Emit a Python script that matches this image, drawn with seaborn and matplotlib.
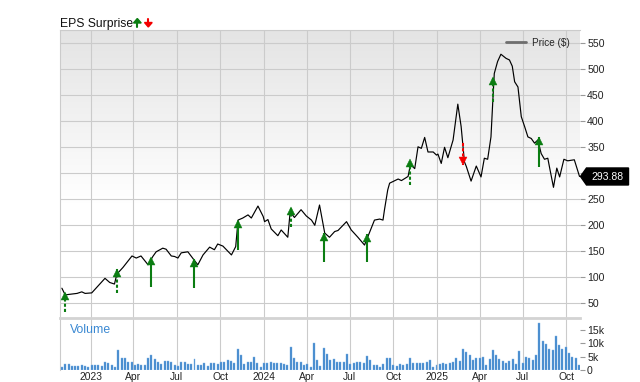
import matplotlib
matplotlib.use("Agg")
import matplotlib.pyplot as plt
import matplotlib.ticker as mticker
from matplotlib.lines import Line2D
from matplotlib.patches import Polygon
from matplotlib.transforms import offset_copy
import numpy as np
import pandas as pd
import seaborn as sns

# ---------------- data ----------------
price_dates = [
    "2022-11-01", "2022-11-08", "2022-11-15", "2022-12-03", "2022-12-13", "2022-12-20",
    "2023-01-03", "2023-01-31", "2023-02-10", "2023-02-20", "2023-02-25", "2023-03-10",
    "2023-03-29", "2023-04-07", "2023-04-17", "2023-05-02", "2023-05-12", "2023-05-19",
    "2023-06-02", "2023-06-09", "2023-06-20", "2023-06-27", "2023-07-04", "2023-07-11",
    "2023-07-25", "2023-08-04", "2023-08-15", "2023-08-26", "2023-09-09", "2023-09-19",
    "2023-09-26", "2023-10-07", "2023-10-25", "2023-11-03", "2023-11-08", "2023-11-18",
    "2023-11-29", "2023-12-06", "2023-12-20", "2023-12-31", "2024-01-03", "2024-01-10",
    "2024-01-17", "2024-01-31", "2024-02-07", "2024-02-21", "2024-02-26", "2024-03-06",
    "2024-03-20", "2024-03-31", "2024-04-11", "2024-04-18", "2024-04-28", "2024-05-09",
    "2024-05-19", "2024-05-30", "2024-06-06", "2024-06-24", "2024-07-04", "2024-07-18",
    "2024-08-01", "2024-08-08", "2024-08-22", "2024-09-02", "2024-09-09", "2024-09-12",
    "2024-09-19", "2024-09-23", "2024-10-11", "2024-10-18", "2024-11-01", "2024-11-06",
    "2024-11-15", "2024-11-22", "2024-11-29", "2024-12-06", "2024-12-13", "2024-12-24",
    "2024-12-31", "2025-01-03", "2025-01-10", "2025-01-17", "2025-01-24", "2025-02-04",
    "2025-02-14", "2025-02-21", "2025-02-28", "2025-03-04", "2025-03-14", "2025-03-25",
    "2025-04-04", "2025-04-11", "2025-04-18", "2025-04-25", "2025-04-29", "2025-05-02",
    "2025-05-09", "2025-05-16", "2025-05-27", "2025-06-03", "2025-06-09", "2025-06-14",
    "2025-06-21", "2025-06-28", "2025-07-05", "2025-07-12", "2025-07-19", "2025-07-26",
    "2025-08-02", "2025-08-09", "2025-08-16", "2025-08-23", "2025-08-27", "2025-09-04",
    "2025-09-11", "2025-09-17", "2025-09-26", "2025-10-04", "2025-10-18", "2025-10-29",
]
price_values = [
    79, 66, 67, 69, 72, 69,
    70, 98, 90, 87, 106, 119,
    141, 137, 141, 124, 140, 149,
    156, 154, 141, 140, 137, 147,
    149, 137, 124, 143, 158, 153,
    164, 160, 143, 159, 210, 214,
    220, 214, 237, 217, 207, 211,
    193, 180, 191, 177, 226, 215,
    230, 218, 210, 200, 239, 185,
    177, 188, 190, 207, 191, 177,
    162, 178, 210, 212, 210, 229,
    268, 281, 289, 286, 294, 317,
    309, 351, 348, 369, 341, 341,
    335, 337, 319, 350, 330, 364,
    433, 390, 322, 313, 285, 314,
    293, 329, 327, 370, 441, 492,
    515, 529, 521, 518, 506, 476,
    466, 409, 390, 370, 367, 358,
    364, 338, 327, 329, 310, 273,
    310, 293, 327, 324, 326, 293.88,
]

eps_dates = ["2022-11-07", "2023-02-26", "2023-05-08", "2023-08-07", "2023-11-07",
             "2024-02-27", "2024-05-07", "2024-08-06", "2024-11-06", "2025-02-26",
             "2025-04-30", "2025-08-05"]
eps_tip = [70, 115, 138, 135, 209, 235, 185, 183, 326, 316, 485, 369]
eps_tail = [34, 69, 82, 80, 152, 196, 130, 129, 278, 358, 438, 313]
eps_result = ["beat", "beat", "beat", "beat", "beat", "beat", "beat", "beat",
              "beat", "miss", "beat", "beat"]
eps_dashed = [True, True, False, False, False, True, False, False, True, True, True, False]

volume_start = "2022-11-01"
volume_k = [
    1.0, 2.25, 2.25, 1.5, 1.6, 1.6, 1.9, 1.5, 1.25, 1.75,
    1.75, 1.75, 1.5, 3.0, 2.5, 1.75, 1.25, 7.25, 4.4, 4.6,
    3.1, 3.1, 1.9, 2.4, 1.9, 1.9, 4.4, 5.6, 3.9, 2.9,
    2.25, 3.4, 3.4, 3.1, 1.9, 1.6, 3.1, 2.9, 2.25, 2.25,
    4.0, 1.9, 1.9, 2.75, 1.5, 2.75, 2.5, 2.4, 2.9, 3.1,
    3.75, 3.5, 2.5, 7.9, 5.4, 2.1, 3.1, 2.9, 4.75, 2.5,
    1.25, 2.6, 2.6, 3.1, 2.5, 2.75, 2.6, 2.4, 1.9, 8.4,
    4.4, 3.1, 2.9, 1.9, 2.25, 1.25, 10.0, 3.75,
    1.6, 8.1, 5.9, 3.75, 4.1, 2.9, 3.1, 2.9, 6.0, 2.1,
    2.75, 3.1, 3.1, 2.5, 5.1, 3.75, 1.9, 1.9, 1.1, 2.1,
    4.4, 4.4, 1.9, 1.5, 2.1, 2.0, 2.4, 4.4, 2.5, 2.75,
    2.6, 2.75, 3.1, 3.6, 1.0, 1.75, 2.25, 2.75, 2.1, 2.75,
    3.0, 4.4, 3.4, 7.75, 6.5, 5.4, 3.75, 4.4, 4.5, 5.0,
    1.9, 3.9, 7.4, 5.6, 4.0, 3.5, 2.75, 3.4, 4.1, 2.1,
    7.0, 2.75, 4.75, 4.6, 3.75, 5.6, 17.5, 10.6, 9.6, 7.9,
    7.5, 12.75, 9.4, 7.9, 8.6, 6.25, 4.9, 4.5, 1.9,
]

tick_dates = ["2023-01-01", "2023-04-01", "2023-07-01", "2023-10-01",
              "2024-01-01", "2024-04-01", "2024-07-01", "2024-10-01",
              "2025-01-01", "2025-04-01", "2025-07-01", "2025-10-01"]
tick_labels = ["2023", "Apr", "Jul", "Oct", "2024", "Apr", "Jul", "Oct",
               "2025", "Apr", "Jul", "Oct"]
price_ticks = [50, 100, 150, 200, 250, 300, 350, 400, 450, 500, 550]
price_tick_labels = ["50", "100", "150", "200", "250", "", "350", "400", "450",
                     "500", "550"]
volume_ticks = [0, 5, 10, 15]
volume_tick_labels = ["0", "5k", "10k", "15k"]
last_price_label = "293.88"

# ---------------- style ----------------
sns.set_theme(style="white")
plt.rcParams["font.family"] = ["Liberation Sans", "DejaVu Sans"]

W, H = 640, 382
fig = plt.figure(figsize=(W / 100, H / 100), dpi=100)


def rect(l, t, r, b):
    return [l / W, 1 - b / H, (r - l) / W, (b - t) / H]


def px(x, y):
    return (x / W, 1 - y / H)


GRID = "#cbcbcb"
ax = fig.add_axes(rect(60, 30, 580, 318))
axv = fig.add_axes(rect(60, 318, 580, 370), sharex=ax)

df = pd.DataFrame({"date": pd.to_datetime(price_dates), "price": price_values})
sns.lineplot(data=df, x="date", y="price", ax=ax, color="black", lw=0.85,
             legend=False, zorder=3)

# background gradient of price panel
n = 300
f = np.linspace(1, 0, n)  # top -> bottom fraction from bottom
f0 = 0.40
g = np.where(f < f0, 1.0, 1.0 - (f - f0) / (1 - f0) * (1 - 0.893))
ax.imshow(np.dstack([g, g, g]).reshape(n, 1, 3),
          extent=[0, 1, 0, 1], transform=ax.transAxes, aspect="auto",
          zorder=0, interpolation="bilinear")

xmin, xmax = pd.Timestamp("2022-10-28"), pd.Timestamp("2025-10-30")
ax.set_xlim(xmin, xmax)
ax.set_ylim(21.7, 575.6)

# EPS surprise arrows
for d, tip, tail, res, dashed in zip(eps_dates, eps_tip, eps_tail, eps_result, eps_dashed):
    d = pd.Timestamp(d)
    col = "#0b7d12" if res == "beat" else "#f40000"
    up = tip > tail
    ls = (0, (1.5, 1.0)) if dashed else "-"
    ax.plot([d, d], [tail, tip], color=col, lw=1.5, ls=ls, zorder=4,
            solid_capstyle="butt", dash_capstyle="butt")
    tr = offset_copy(ax.transData, fig=fig, y=(-2.6 if up else 2.6), units="points")
    ax.plot([d], [tip], marker="^" if up else "v", ms=5.6, color=col,
            mec=col, mew=0.3, transform=tr, zorder=5, ls="none")

ax.set_xticks(pd.to_datetime(tick_dates))
ax.set_yticks(price_ticks)
ax.set_yticklabels(price_tick_labels)
ax.yaxis.tick_right()
ax.tick_params(axis="y", right=True, left=False, length=3.6, width=0.8,
               color="#9a9a9a", labelsize=7.6, pad=1.5, labelcolor="#222222")
ax.tick_params(axis="x", bottom=False, labelbottom=False)
ax.grid(True, color=GRID, lw=0.8, zorder=1)
ax.set_axisbelow(True)
ax.set_xlabel("")
ax.set_ylabel("")
for s in ["right", "bottom"]:
    ax.spines[s].set_visible(False)
for s in ["left", "top"]:
    ax.spines[s].set_color(GRID)
    ax.spines[s].set_linewidth(0.8)

leg_handle = Line2D([], [], color="#6e6e6e", lw=2.0)
ax.legend([leg_handle], ["Price ($)"], loc="upper right",
          bbox_to_anchor=(0.99, 0.99), frameon=False, fontsize=7.2,
          handlelength=2.0, handletextpad=0.6, borderaxespad=0.1)

# Volume panel
vdates = pd.date_range(volume_start, periods=len(volume_k), freq="7D")
axv.bar(vdates, volume_k, width=4.2, color="#3f86cc", edgecolor="#7fb2e3",
        lw=0.3, zorder=3)
axv.set_ylim(0, 19.3)
axv.set_xlim(xmin, xmax)
axv.set_yticks(volume_ticks)
axv.set_yticklabels(volume_tick_labels)
axv.yaxis.tick_right()
axv.tick_params(axis="y", right=True, left=False, length=3.6, width=0.8,
                color="#9a9a9a", labelsize=7.6, pad=1.5, labelcolor="#222222")
axv.set_xticks(pd.to_datetime(tick_dates))
axv.set_xticklabels(tick_labels)
axv.tick_params(axis="x", bottom=False, labelbottom=True, labelsize=7.4,
                pad=-4.2, labelcolor="#222222")
axv.grid(True, axis="x", color=GRID, lw=0.8, zorder=1)
axv.grid(False, axis="y")
axv.set_axisbelow(True)
axv.set_facecolor("white")
for s in ["right", "bottom"]:
    axv.spines[s].set_visible(False)
axv.spines["left"].set_color(GRID)
axv.spines["left"].set_linewidth(0.8)
axv.spines["top"].set_color("#d3d3d3")
axv.spines["top"].set_linewidth(2.0)
axv.text(0.019, 0.88, "Volume", transform=axv.transAxes, color="#3a88d2",
         fontsize=8.8, va="top", ha="left")

# title with arrows
fig.text(*px(60, 27.5), "EPS Surprise", fontsize=8.7, color="#111111",
         ha="left", va="baseline")
fig.add_artist(Line2D([px(137.3, 22)[0]] * 2, [px(0, 22)[1], px(0, 27)[1]],
                      transform=fig.transFigure, color="#0b7d12", lw=1.5))
fig.add_artist(Polygon([px(133.5, 23), px(141.2, 23), px(137.3, 18.5)], closed=True,
                       transform=fig.transFigure, color="#0b7d12"))
fig.add_artist(Line2D([px(148.3, 18.5)[0]] * 2, [px(0, 18.5)[1], px(0, 23)[1]],
                      transform=fig.transFigure, color="#f40000", lw=1.5))
fig.add_artist(Polygon([px(144.5, 22.5), px(152.2, 22.5), px(148.3, 27)], closed=True,
                       transform=fig.transFigure, color="#f40000"))

# last price box
fig.canvas.draw()
y_disp = ax.transData.transform((0, price_values[-1]))[1]
yc = H - y_disp
box = [px(580.5, yc), px(586.5, yc - 8.5), px(628.5, yc - 8.5),
       px(628.5, yc + 8.5), px(586.5, yc + 8.5)]
fig.add_artist(Polygon(box, closed=True, transform=fig.transFigure,
                       color="black", zorder=10))
fig.text(*px(607.5, yc + 0.3), last_price_label, color="white", fontsize=7.5,
         ha="center", va="center", zorder=11)

fig.savefig("out.png", dpi=100)
